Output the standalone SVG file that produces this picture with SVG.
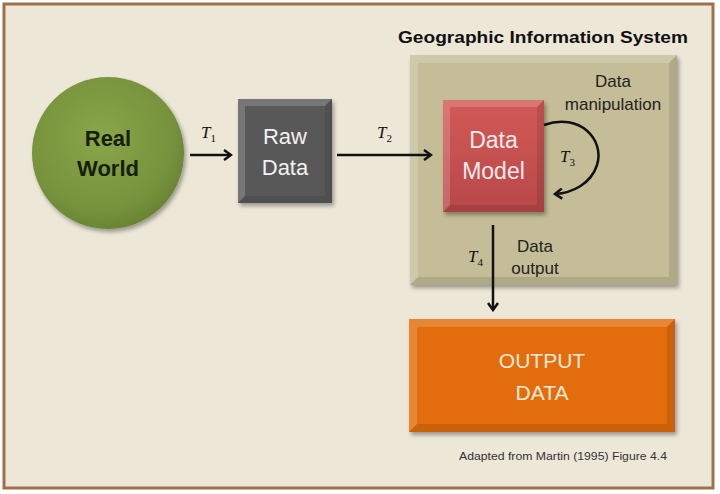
<svg xmlns="http://www.w3.org/2000/svg" width="720" height="494" viewBox="0 0 720 494">
<defs>
<radialGradient id="gGreen" cx="0.45" cy="0.4" r="0.6">
<stop offset="0" stop-color="#8aa64a"/>
<stop offset="0.8" stop-color="#76923c"/>
<stop offset="1" stop-color="#6a8534"/>
</radialGradient>
<linearGradient id="gRed" x1="0" y1="0" x2="0" y2="1">
<stop offset="0" stop-color="#d25a57"/>
<stop offset="1" stop-color="#b8484a"/>
</linearGradient>
<filter id="sh" x="-10%" y="-10%" width="130%" height="130%">
<feGaussianBlur in="SourceAlpha" stdDeviation="2"/>
<feOffset dx="2" dy="3"/>
<feComponentTransfer><feFuncA type="linear" slope="0.35"/></feComponentTransfer>
<feMerge><feMergeNode/><feMergeNode in="SourceGraphic"/></feMerge>
</filter>
<marker id="ah" markerWidth="10" markerHeight="12" refX="8" refY="6" orient="auto" markerUnits="userSpaceOnUse">
<path d="M1,1 L8,6 L1,11" fill="none" stroke="#111" stroke-width="2.5" stroke-linejoin="miter"/>
</marker>
</defs>
<style>
.lbl{font-family:"Liberation Sans",Arial,sans-serif;text-anchor:middle}
.t{font-family:"Liberation Serif","Times New Roman",serif;font-style:italic;font-size:17px;fill:#111}
.sub{font-size:11px;font-style:normal}
.conn{stroke:#111;stroke-width:2.5;fill:none}
.bevel{fill:#fff;opacity:0.18}
.bevelD{fill:#000;opacity:0.1}
</style>
<rect x="0" y="0" width="720" height="494" fill="#ffffff"/>
<rect x="4" y="4" width="709" height="484" fill="#ece7d7" stroke="#a0704a" stroke-width="3"/>

<g id="gis">
<rect x="410" y="55" width="267" height="230" fill="#c4bd97" filter="url(#sh)"/>
<polygon class="bevel" points="410,55 677,55 669,63 418,63"/>
<polygon class="bevel" points="410,55 418,63 418,277 410,285"/>
<polygon class="bevelD" points="410,285 418,277 669,277 677,285"/>
<polygon class="bevelD" points="677,55 677,285 669,277 669,63"/>
<text x="398" y="43" font-family="'Liberation Sans',Arial,sans-serif" font-weight="bold" font-size="17" fill="#111" textLength="290" lengthAdjust="spacingAndGlyphs">Geographic Information System</text>
</g>

<g id="real-world">
<circle cx="108" cy="153" r="76" fill="url(#gGreen)" filter="url(#sh)"/>
<text class="lbl" x="108" y="146" font-size="22" font-weight="bold" fill="#14200a">Real</text>
<text class="lbl" x="108" y="176" font-size="22" font-weight="bold" fill="#14200a">World</text>
</g>

<g id="raw-data">
<rect x="238" y="99" width="94" height="104" fill="#595959" filter="url(#sh)"/>
<polygon class="bevel" points="238,99 332,99 325,106 245,106"/>
<polygon class="bevel" points="238,99 245,106 245,196 238,203"/>
<polygon class="bevelD" points="238,203 245,196 325,196 332,203"/>
<polygon class="bevelD" points="332,99 332,203 325,196 325,106"/>
<text class="lbl" x="285" y="144" font-size="22" fill="#f2f2f2">Raw</text>
<text class="lbl" x="285" y="175" font-size="22" fill="#f2f2f2">Data</text>
</g>

<g id="data-model">
<rect x="443" y="100" width="101" height="112" fill="url(#gRed)" filter="url(#sh)"/>
<polygon class="bevel" points="443,100 544,100 537,107 450,107"/>
<polygon class="bevel" points="443,100 450,107 450,205 443,212"/>
<polygon class="bevelD" points="443,212 450,205 537,205 544,212"/>
<polygon class="bevelD" points="544,100 544,212 537,205 537,107"/>
<text class="lbl" x="493.5" y="148" font-size="23" fill="#fbeaea">Data</text>
<text class="lbl" x="493.5" y="179" font-size="23" fill="#fbeaea">Model</text>
</g>

<g id="output-data">
<rect x="409" y="319" width="266" height="113" fill="#e36c0a" filter="url(#sh)"/>
<polygon class="bevel" points="409,319 675,319 667,327 417,327"/>
<polygon class="bevel" points="409,319 417,327 417,424 409,432"/>
<polygon class="bevelD" points="409,432 417,424 667,424 675,432"/>
<polygon class="bevelD" points="675,319 675,432 667,424 667,327"/>
<text class="lbl" x="542" y="368" font-size="21" fill="#fde9d9">OUTPUT</text>
<text class="lbl" x="542" y="400" font-size="21" fill="#fde9d9">DATA</text>
</g>

<g id="connectors">
<line class="conn" x1="190" y1="155" x2="231" y2="155" marker-end="url(#ah)"/>
<line class="conn" x1="337" y1="155" x2="431" y2="155" marker-end="url(#ah)"/>
<path class="conn" d="M544,125 C580,112 605,140 597,165 C591,184 572,193 555,194" marker-end="url(#ah)"/>
<line class="conn" x1="493" y1="225" x2="493" y2="310" marker-end="url(#ah)"/>
<text class="t" x="201" y="138">T<tspan class="sub" dy="4">1</tspan></text>
<text class="t" x="377" y="138">T<tspan class="sub" dy="4">2</tspan></text>
<text class="t" x="560" y="162">T<tspan class="sub" dy="4">3</tspan></text>
<text class="t" x="468" y="262">T<tspan class="sub" dy="4">4</tspan></text>
<text class="lbl" x="613" y="87" font-size="17" fill="#222">Data</text>
<text class="lbl" x="613" y="110" font-size="17" fill="#222">manipulation</text>
<text class="lbl" x="535" y="252" font-size="17" fill="#222">Data</text>
<text class="lbl" x="535" y="274" font-size="17" fill="#222">output</text>
</g>

<text x="459" y="460" font-family="'Liberation Sans',Arial,sans-serif" font-size="11" fill="#333" textLength="208" lengthAdjust="spacingAndGlyphs">Adapted from Martin (1995) Figure 4.4</text>
</svg>
